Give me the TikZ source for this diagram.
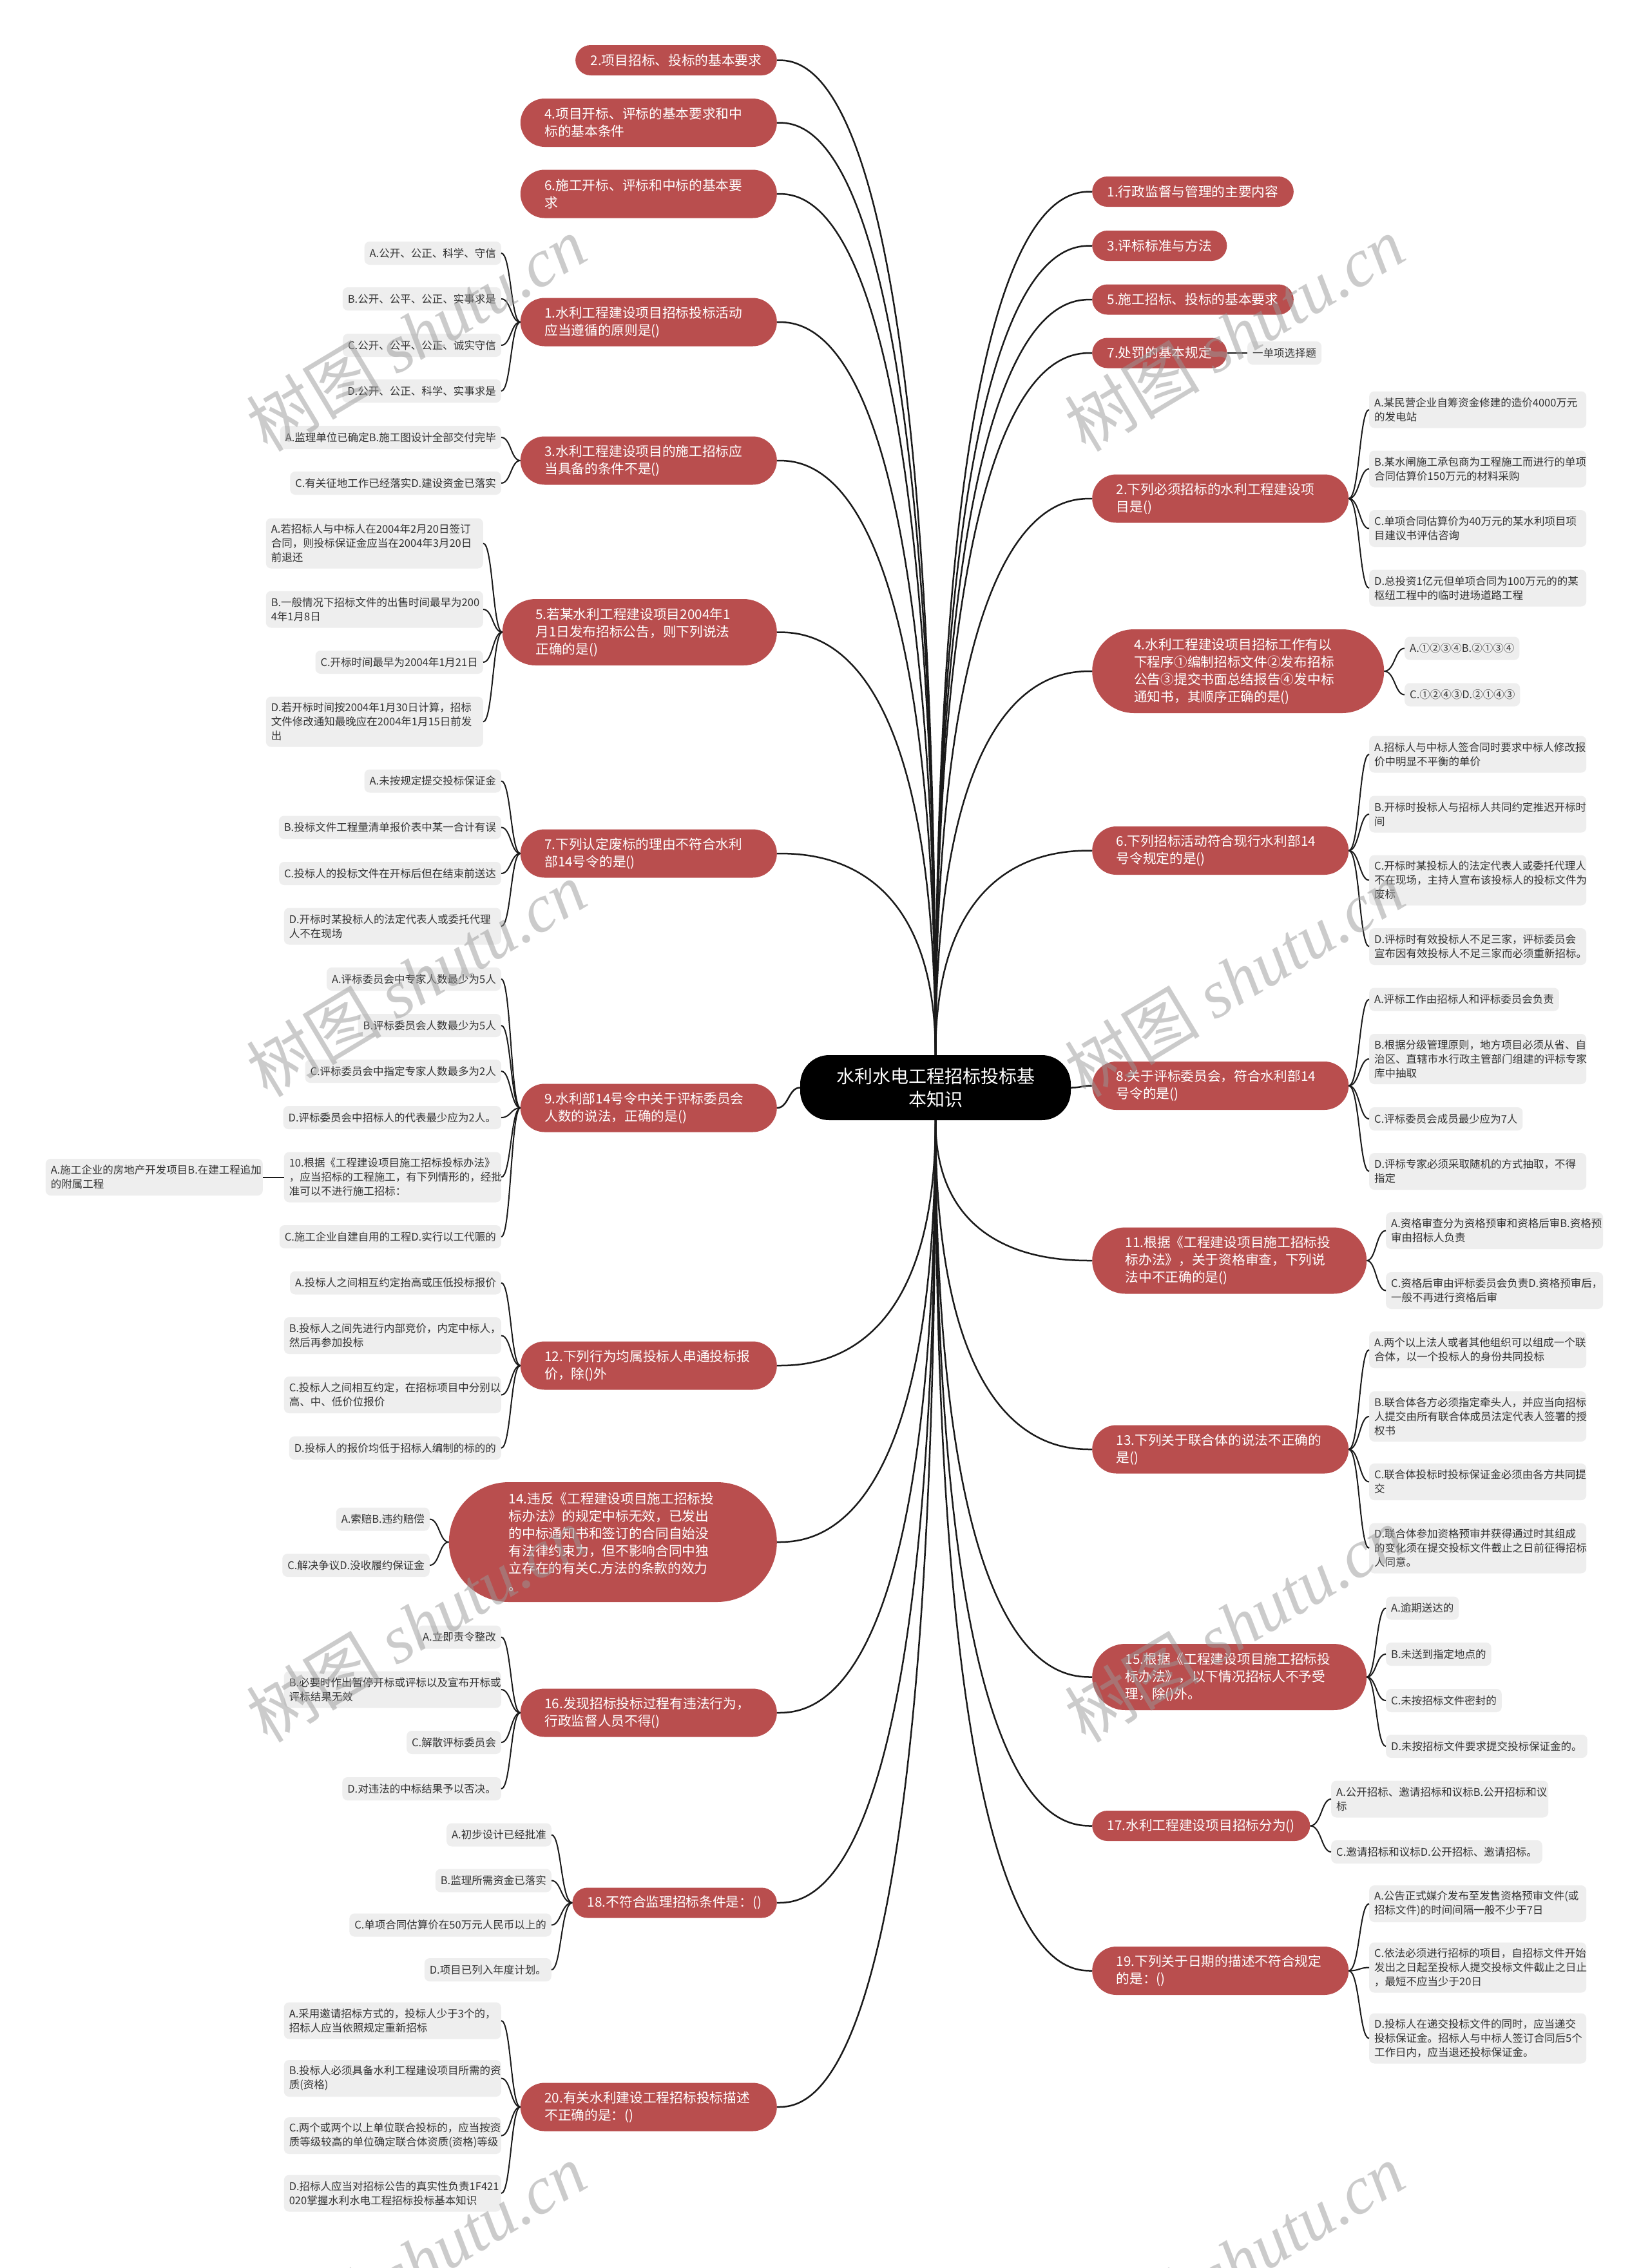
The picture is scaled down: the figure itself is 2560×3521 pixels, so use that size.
\documentclass[tikz,border=0pt]{standalone}
\usepackage{fontspec}
\setmainfont{Noto Sans CJK SC}
\newfontfamily\wmlatin{Liberation Serif}
\usetikzlibrary{calc}
\definecolor{nodered}{HTML}{B94E4E}
\definecolor{leafbg}{HTML}{EEEEEE}
\definecolor{leaftext}{HTML}{333333}
\definecolor{linecol}{HTML}{1A1A1A}
\tikzset{
 lvone/.style={fill=nodered, text=white, font=\fontsize{20.7pt}{27pt}\selectfont, inner ysep=0pt, align=left},
 hA/.style={lvone, minimum height=47pt, inner xsep=23.5pt, rounded corners=23.5pt},
 hB/.style={lvone, minimum height=75pt, inner xsep=37.5pt, rounded corners=37.5pt, text width=323pt},
 hC/.style={lvone, minimum height=103pt, inner xsep=51.5pt, rounded corners=51.5pt, text width=323pt},
 hD/.style={lvone, minimum height=130pt, inner xsep=65pt, rounded corners=65pt, text width=323pt},
 hF/.style={lvone, minimum height=186pt, inner xsep=93pt, rounded corners=93pt, text width=323pt},
 leaf/.style={fill=leafbg, text=leaftext, font=\fontsize{16.5pt}{22pt}\selectfont, inner ysep=0pt, inner xsep=8pt, rounded corners=8pt, align=left},
 lA/.style={leaf, minimum height=36pt},
 lB/.style={leaf, minimum height=57pt, text width=321pt},
 lC/.style={leaf, minimum height=78pt, text width=321pt},
 rootbox/.style={fill=black, text=white, rounded corners=45pt, minimum width=420pt, minimum height=101pt, align=center, font=\fontsize{28pt}{36pt}\selectfont},
 rootconn/.style={draw=linecol, line width=2.5pt},
 leafconn/.style={draw=linecol, line width=2pt},
 wm/.style={text=black!40, opacity=0.5, font=\fontsize{105pt}{105pt}\selectfont, inner sep=0pt},
}
\newcommand\rootlink[2]{\draw[rootconn] (#1) .. controls (#1 |- #2) and ($(#2)!0.2!(#1 |- #2)$) .. (#2);}
\newcommand\sidelink[2]{\draw[rootconn] let \p1=(#1),\p2=(#2) in (\p1) .. controls ({(\x1+\x2)/2},\y1) and ({(\x1+\x2)/2},\y2) .. (\p2);}
\newcommand\lleaf[2]{\draw[leafconn] let \p1=(#1),\p2=(#2) in (\p1) .. controls (\x2+15pt,\y1) and (\x2+15pt,\y2) .. (\p2);}
\newcommand\rleaf[2]{\draw[leafconn] let \p1=(#1),\p2=(#2) in (\p1) .. controls (\x2-15pt,\y1) and (\x2-15pt,\y2) .. (\p2);}
\begin{document}
\begin{tikzpicture}[x=1pt,y=-1pt]
\fill[white] (0,0) rectangle (2560,3521);
\useasboundingbox (0,0) rectangle (2560,3521);

% root
\node[rootbox] (root) at (1452,1688.5) {水利水电工程招标投标基\\本知识};

% left level one
\node[hA, anchor=east] (L2) at (1206,93.5) {2.项目招标、投标的基本要求};
\node[hB, anchor=east] (L4) at (1206,190.5) {4.项目开标、评标的基本要求和中\\标的基本条件};
\node[hB, anchor=east] (L6) at (1206,301) {6.施工开标、评标和中标的基本要\\求};
\node[hB, anchor=east] (L1) at (1206,500) {1.水利工程建设项目招标投标活动\\应当遵循的原则是()};
\node[hB, anchor=east] (L3) at (1206,715) {3.水利工程建设项目的施工招标应\\当具备的条件不是()};
\node[hC, anchor=east] (L5) at (1206,981.5) {5.若某水利工程建设项目2004年1\\月1日发布招标公告，则下列说法\\正确的是()};
\node[hB, anchor=east] (L7) at (1206,1325) {7.下列认定废标的理由不符合水利\\部14号令的是()};
\node[hB, anchor=east] (L9) at (1206,1720) {9.水利部14号令中关于评标委员会\\人数的说法，正确的是()};
\node[hB, anchor=east] (L12) at (1206,2120) {12.下列行为均属投标人串通投标报\\价，除()外};
\node[hF, anchor=east] (L14) at (1206,2394) {14.违反《工程建设项目施工招标投\\标办法》的规定中标无效，已发出\\的中标通知书和签订的合同自始没\\有法律约束力，但不影响合同中独\\立存在的有关C.方法的条款的效力\\。};
\node[hB, anchor=east] (L16) at (1206,2659) {16.发现招标投标过程有违法行为，\\行政监督人员不得()};
\node[hA, anchor=east] (L18) at (1206,2954) {18.不符合监理招标条件是：()};
\node[hB, anchor=east] (L20) at (1206,3271) {20.有关水利建设工程招标投标描述\\不正确的是：()};

% right level one
\node[hA, anchor=west] (R1) at (1695,297.5) {1.行政监督与管理的主要内容};
\node[hA, anchor=west] (R3) at (1695,381.5) {3.评标标准与方法};
\node[hA, anchor=west] (R5) at (1695,465) {5.施工招标、投标的基本要求};
\node[hA, anchor=west] (R7) at (1695,548) {7.处罚的基本规定};
\node[hB, anchor=west] (R2) at (1695,774) {2.下列必须招标的水利工程建设项\\目是()};
\node[hD, anchor=west] (R4) at (1695,1042) {4.水利工程建设项目招标工作有以\\下程序①编制招标文件②发布招标\\公告③提交书面总结报告④发中标\\通知书，其顺序正确的是()};
\node[hB, anchor=west] (R6) at (1695,1320.5) {6.下列招标活动符合现行水利部14\\号令规定的是()};
\node[hB, anchor=west] (R8) at (1695,1685.5) {8.关于评标委员会，符合水利部14\\号令的是()};
\node[hC, anchor=west] (R11) at (1695,1957) {11.根据《工程建设项目施工招标投\\标办法》，关于资格审查，下列说\\法中不正确的是()};
\node[hB, anchor=west] (R13) at (1695,2250) {13.下列关于联合体的说法不正确的\\是()};
\node[hC, anchor=west] (R15) at (1695,2603.5) {15.根据《工程建设项目施工招标投\\标办法》，以下情况招标人不予受\\理，除()外。};
\node[hA, anchor=west] (R17) at (1695,2834.5) {17.水利工程建设项目招标分为()};
\node[hB, anchor=west] (R19) at (1695,3059.5) {19.下列关于日期的描述不符合规定\\的是：()};

% left leaves
\node[lA, anchor=east] (L1a) at (778,393) {A.公开、公正、科学、守信};
\node[lA, anchor=east] (L1b) at (778,464) {B.公开、公平、公正、实事求是};
\node[lA, anchor=east] (L1c) at (778,536) {C.公开、公平、公正、诚实守信};
\node[lA, anchor=east] (L1d) at (778,607) {D.公开、公正、科学、实事求是};
\node[lA, anchor=east] (L3a) at (778,679) {A.监理单位已确定B.施工图设计全部交付完毕};
\node[lA, anchor=east] (L3b) at (778,750) {C.有关征地工作已经落实D.建设资金已落实};
\node[lC, anchor=east] (L5a) at (750,843.5) {A.若招标人与中标人在2004年2月20日签订\\合同，则投标保证金应当在2004年3月20日\\前退还};
\node[lB, anchor=east] (L5b) at (750,946) {B.一般情况下招标文件的出售时间最早为200\\4年1月8日};
\node[lA, anchor=east] (L5c) at (750,1028) {C.开标时间最早为2004年1月21日};
\node[lC, anchor=east] (L5d) at (750,1120.5) {D.若开标时间按2004年1月30日计算，招标\\文件修改通知最晚应在2004年1月15日前发\\出};
\node[lA, anchor=east] (L7a) at (778,1212.5) {A.未按规定提交投标保证金};
\node[lA, anchor=east] (L7b) at (778,1284.5) {B.投标文件工程量清单报价表中某一合计有误};
\node[lA, anchor=east] (L7c) at (778,1356) {C.投标人的投标文件在开标后但在结束前送达};
\node[lB, anchor=east] (L7d) at (778,1438) {D.开标时某投标人的法定代表人或委托代理\\人不在现场};
\node[lA, anchor=east] (L9a) at (778,1520) {A.评标委员会中专家人数最少为5人};
\node[lA, anchor=east] (L9b) at (778,1592) {B.评标委员会人数最少为5人};
\node[lA, anchor=east] (L9c) at (778,1663) {C.评标委员会中指定专家人数最多为2人};
\node[lA, anchor=east] (L9d) at (778,1735) {D.评标委员会中招标人的代表最少应为2人。};
\node[lC, anchor=east] (L9e) at (778,1827.5) {10.根据《工程建设项目施工招标投标办法》\\，应当招标的工程施工，有下列情形的，经批\\准可以不进行施工招标：};
\node[lB, anchor=east] (L9ea) at (408,1827.5) {A.施工企业的房地产开发项目B.在建工程追加\\的附属工程};
\node[lA, anchor=east] (L9f) at (778,1920) {C.施工企业自建自用的工程D.实行以工代赈的};
\node[lA, anchor=east] (L12a) at (778,1991.5) {A.投标人之间相互约定抬高或压低投标报价};
\node[lB, anchor=east] (L12b) at (778,2073.5) {B.投标人之间先进行内部竞价，内定中标人，\\然后再参加投标};
\node[lB, anchor=east] (L12c) at (778,2165.5) {C.投标人之间相互约定，在招标项目中分别以\\高、中、低价位报价};
\node[lA, anchor=east] (L12d) at (778,2248) {D.投标人的报价均低于招标人编制的标的的};
\node[lA, anchor=east] (L14a) at (667,2358.5) {A.索赔B.违约赔偿};
\node[lA, anchor=east] (L14b) at (667,2430) {C.解决争议D.没收履约保证金};
\node[lA, anchor=east] (L16a) at (778,2541.5) {A.立即责令整改};
\node[lB, anchor=east] (L16b) at (778,2623) {B.必要时作出暂停开标或评标以及宣布开标或\\评标结果无效};
\node[lA, anchor=east] (L16c) at (778,2705) {C.解散评标委员会};
\node[lA, anchor=east] (L16d) at (778,2777) {D.对违法的中标结果予以否决。};
\node[lA, anchor=east] (L18a) at (856,2848.5) {A.初步设计已经批准};
\node[lA, anchor=east] (L18b) at (856,2919.5) {B.监理所需资金已落实};
\node[lA, anchor=east] (L18c) at (856,2988.5) {C.单项合同估算价在50万元人民币以上的};
\node[lA, anchor=east] (L18d) at (856,3058) {D.项目已列入年度计划。};
\node[lB, anchor=east] (L20a) at (778,3137) {A.采用邀请招标方式的，投标人少于3个的，\\招标人应当依照规定重新招标};
\node[lB, anchor=east] (L20b) at (778,3226.5) {B.投标人必须具备水利工程建设项目所需的资\\质(资格)};
\node[lB, anchor=east] (L20c) at (778,3315.5) {C.两个或两个以上单位联合投标的，应当按资\\质等级较高的单位确定联合体资质(资格)等级};
\node[lB, anchor=east] (L20d) at (778,3405) {D.招标人应当对招标公告的真实性负责1F421\\020掌握水利水电工程招标投标基本知识};

% right leaves
\node[lA, anchor=west] (R7a) at (1936,548) {一单项选择题};
\node[lB, anchor=west] (R2a) at (2125,636) {A.某民营企业自筹资金修建的造价4000万元\\的发电站};
\node[lB, anchor=west] (R2b) at (2125,728) {B.某水闸施工承包商为工程施工而进行的单项\\合同估算价150万元的材料采购};
\node[lB, anchor=west] (R2c) at (2125,820.5) {C.单项合同估算价为40万元的某水利项目项\\目建议书评估咨询};
\node[lB, anchor=west] (R2d) at (2125,913) {D.总投资1亿元但单项合同为100万元的的某\\枢纽工程中的临时进场道路工程};
\node[lA, anchor=west] (R4a) at (2180,1006.5) {A.①②③④B.②①③④};
\node[lA, anchor=west] (R4b) at (2180,1078.5) {C.①②④③D.②①④③};
\node[lB, anchor=west] (R6a) at (2125,1171) {A.招标人与中标人签合同时要求中标人修改报\\价中明显不平衡的单价};
\node[lB, anchor=west] (R6b) at (2125,1264) {B.开标时投标人与招标人共同约定推迟开标时\\间};
\node[lC, anchor=west] (R6c) at (2125,1366.5) {C.开标时某投标人的法定代表人或委托代理人\\不在现场，主持人宣布该投标人的投标文件为\\废标};
\node[lB, anchor=west] (R6d) at (2125,1469.5) {D.评标时有效投标人不足三家，评标委员会\\宣布因有效投标人不足三家而必须重新招标。};
\node[lA, anchor=west] (R8a) at (2125,1551.5) {A.评标工作由招标人和评标委员会负责};
\node[lC, anchor=west] (R8b) at (2125,1644) {B.根据分级管理原则，地方项目必须从省、自\\治区、直辖市水行政主管部门组建的评标专家\\库中抽取};
\node[lA, anchor=west] (R8c) at (2125,1737) {C.评标委员会成员最少应为7人};
\node[lB, anchor=west] (R8d) at (2125,1818.5) {D.评标专家必须采取随机的方式抽取，不得\\指定};
\node[lB, anchor=west] (R11a) at (2151,1910.5) {A.资格审查分为资格预审和资格后审B.资格预\\审由招标人负责};
\node[lB, anchor=west] (R11b) at (2151,2003.5) {C.资格后审由评标委员会负责D.资格预审后，\\一般不再进行资格后审};
\node[lB, anchor=west] (R13a) at (2125,2095.5) {A.两个以上法人或者其他组织可以组成一个联\\合体，以一个投标人的身份共同投标};
\node[lC, anchor=west] (R13b) at (2125,2199) {B.联合体各方必须指定牵头人，并应当向招标\\人提交由所有联合体成员法定代表人签署的授\\权书};
\node[lB, anchor=west] (R13c) at (2125,2300.5) {C.联合体投标时投标保证金必须由各方共同提\\交};
\node[lC, anchor=west] (R13d) at (2125,2403.5) {D.联合体参加资格预审并获得通过时其组成\\的变化须在提交投标文件截止之日前征得招标\\人同意。};
\node[lA, anchor=west] (R15a) at (2151,2496.5) {A.逾期送达的};
\node[lA, anchor=west] (R15b) at (2151,2568) {B.未送到指定地点的};
\node[lA, anchor=west] (R15c) at (2151,2640) {C.未按招标文件密封的};
\node[lA, anchor=west] (R15d) at (2151,2711) {D.未按招标文件要求提交投标保证金的。};
\node[lB, anchor=west] (R17a) at (2066,2793) {A.公开招标、邀请招标和议标B.公开招标和议\\标};
\node[lA, anchor=west] (R17b) at (2066,2875) {C.邀请招标和议标D.公开招标、邀请招标。};
\node[lB, anchor=west] (R19a) at (2125,2955.5) {A.公告正式媒介发布至发售资格预审文件(或\\招标文件)的时间间隔一般不少于7日};
\node[lC, anchor=west] (R19b) at (2125,3054.5) {C.依法必须进行招标的项目，自招标文件开始\\发出之日起至投标人提交投标文件截止之日止\\，最短不应当少于20日};
\node[lC, anchor=west] (R19c) at (2125,3164.5) {D.投标人在递交投标文件的同时，应当递交\\投标保证金。招标人与中标人签订合同后5个\\工作日内，应当退还投标保证金。};

% root connectors
\foreach \n in {L2,L4,L6,L1,L3,L5,L7} {\rootlink{root.north}{\n.east}}
\foreach \n in {R1,R3,R5,R7,R2,R4,R6} {\rootlink{root.north}{\n.west}}
\foreach \n in {L12,L14,L16,L18,L20} {\rootlink{root.south}{\n.east}}
\foreach \n in {R11,R13,R15,R17,R19} {\rootlink{root.south}{\n.west}}
\sidelink{root.west}{L9.east}
\sidelink{root.east}{R8.west}

% leaf connectors
\foreach \c in {L1a,L1b,L1c,L1d} {\lleaf{L1.west}{\c.east}}
\foreach \c in {L3a,L3b} {\lleaf{L3.west}{\c.east}}
\foreach \c in {L5a,L5b,L5c,L5d} {\lleaf{L5.west}{\c.east}}
\foreach \c in {L7a,L7b,L7c,L7d} {\lleaf{L7.west}{\c.east}}
\foreach \c in {L9a,L9b,L9c,L9d,L9e,L9f} {\lleaf{L9.west}{\c.east}}
\draw[leafconn] (L9e.west) -- (L9ea.east);
\foreach \c in {L12a,L12b,L12c,L12d} {\lleaf{L12.west}{\c.east}}
\foreach \c in {L14a,L14b} {\lleaf{L14.west}{\c.east}}
\foreach \c in {L16a,L16b,L16c,L16d} {\lleaf{L16.west}{\c.east}}
\foreach \c in {L18a,L18b,L18c,L18d} {\lleaf{L18.west}{\c.east}}
\foreach \c in {L20a,L20b,L20c,L20d} {\lleaf{L20.west}{\c.east}}
\draw[leafconn] (R7.east) -- (R7a.west);
\foreach \c in {R2a,R2b,R2c,R2d} {\rleaf{R2.east}{\c.west}}
\foreach \c in {R4a,R4b} {\rleaf{R4.east}{\c.west}}
\foreach \c in {R6a,R6b,R6c,R6d} {\rleaf{R6.east}{\c.west}}
\foreach \c in {R8a,R8b,R8c,R8d} {\rleaf{R8.east}{\c.west}}
\foreach \c in {R11a,R11b} {\rleaf{R11.east}{\c.west}}
\foreach \c in {R13a,R13b,R13c,R13d} {\rleaf{R13.east}{\c.west}}
\foreach \c in {R15a,R15b,R15c,R15d} {\rleaf{R15.east}{\c.west}}
\foreach \c in {R17a,R17b} {\rleaf{R17.east}{\c.west}}
\foreach \c in {R19a,R19b,R19c} {\rleaf{R19.east}{\c.west}}

% watermarks
\foreach \wx in {646,1916} {
  \foreach \wy in {518,1520,2522,3510} {
    \node[wm, rotate=31] (wm-\wx-\wy) at (\wx,\wy) {树图 {\wmlatin\itshape shutu.cn}};
  }
}
\end{tikzpicture}
\end{document}
